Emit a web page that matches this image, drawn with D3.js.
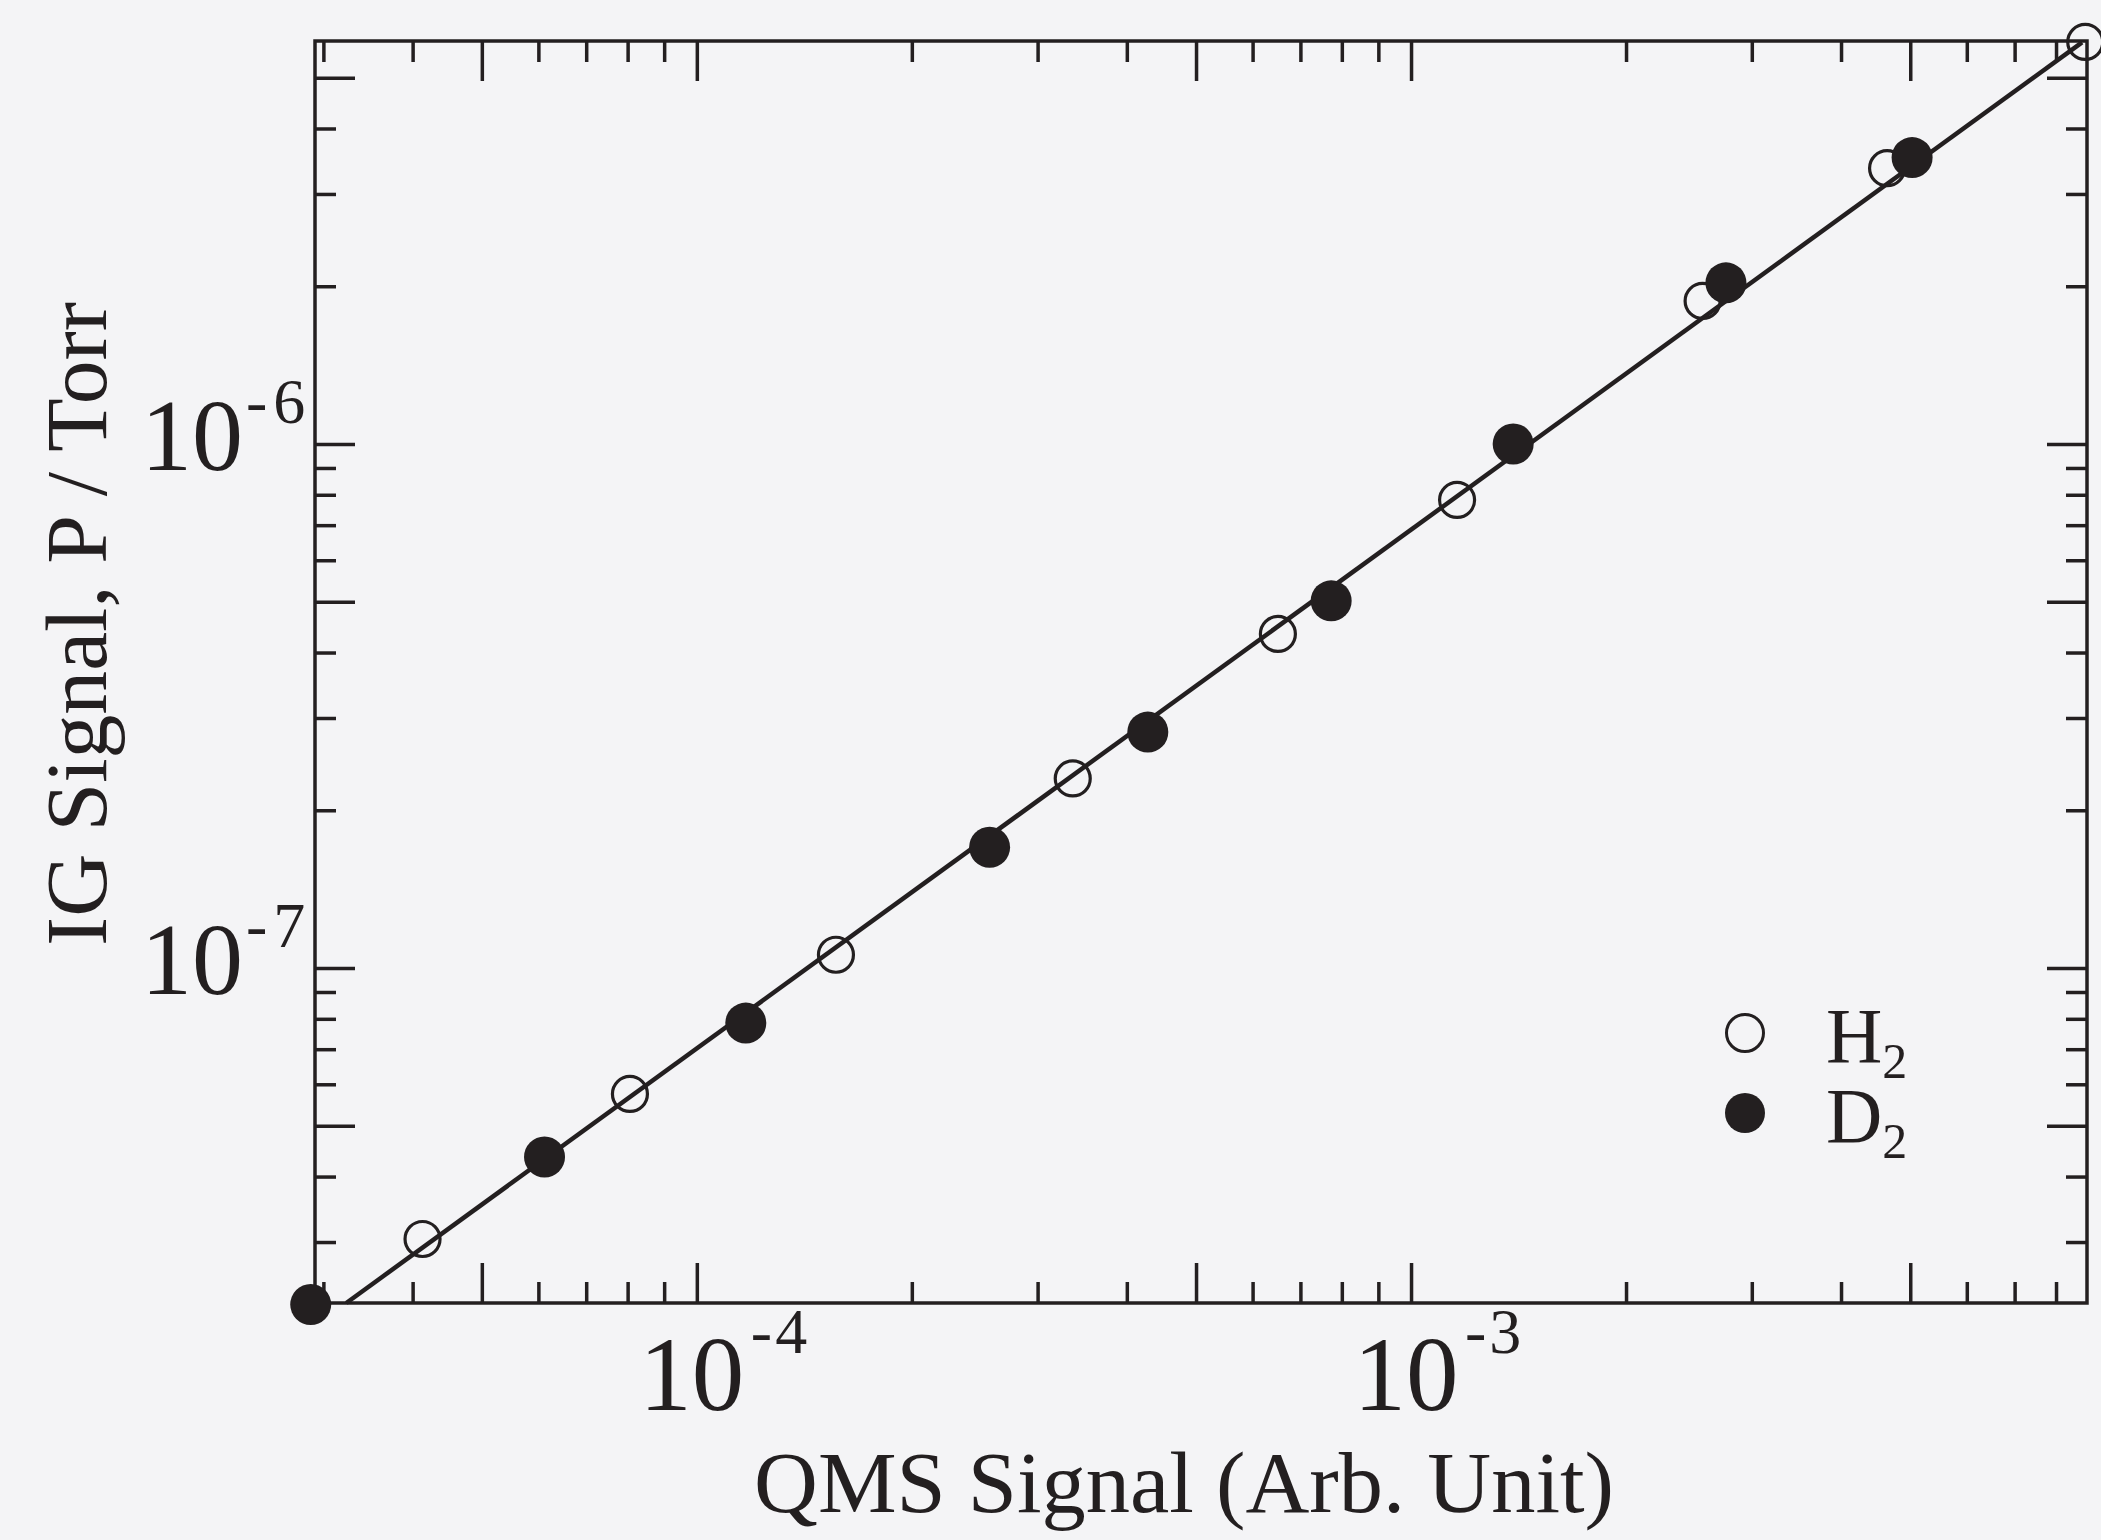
<!DOCTYPE html>
<html><head><meta charset="utf-8">
<script src="https://cdn.jsdelivr.net/npm/d3@7"></script>
<style>
html,body{margin:0;padding:0;background:#f4f4f6;}
svg{display:block;}
</style></head><body>
<svg id="chart" width="2101" height="1540"></svg>
<script>
// ---- data ----
const h2X = [4.13e-5, 8.06e-5, 1.566e-4, 3.36e-4, 6.51e-4, 1.16e-3, 2.56e-3, 4.64e-3, 8.79e-3];
const h2Y = [3.04e-8, 5.75e-8, 1.06e-7, 2.30e-7, 4.34e-7, 7.82e-7, 1.875e-6, 3.36e-6, 5.85e-6];
const d2X = [2.88e-5, 6.12e-5, 1.171e-4, 2.57e-4, 4.28e-4, 7.73e-4, 1.39e-3, 2.76e-3, 5.03e-3];
const d2Y = [2.28e-8, 4.36e-8, 7.85e-8, 1.70e-7, 2.82e-7, 5.02e-7, 1.0e-6, 2.03e-6, 3.52e-6];
const fitX = [3.23e-5, 8.7e-3];
const fitY = [2.295e-8, 5.84e-6];

const xDomain = [2.92e-5, 8.84e-3];
const yDomain = [2.295e-8, 5.875e-6];
const xMajorTicks = [5e-5, 1e-4, 5e-4, 1e-3, 5e-3];
const xMinorTicks = [3e-5, 4e-5, 6e-5, 7e-5, 8e-5, 9e-5, 2e-4, 3e-4, 4e-4, 6e-4, 7e-4, 8e-4, 9e-4, 2e-3, 3e-3, 4e-3, 6e-3, 7e-3, 8e-3];
const yMajorTicks = [5e-8, 1e-7, 5e-7, 1e-6, 5e-6];
const yMinorTicks = [3e-8, 4e-8, 6e-8, 7e-8, 8e-8, 9e-8, 2e-7, 3e-7, 4e-7, 6e-7, 7e-7, 8e-7, 9e-7, 2e-6, 3e-6, 4e-6];
const xLabelValues = [1e-4, 1e-3];
const xLabelExps = ["-4", "-3"];
const yLabelValues = [1e-7, 1e-6];
const yLabelExps = ["-7", "-6"];
const xTitle = "QMS Signal (Arb. Unit)";
const yTitle = "IG Signal, P / Torr";
const legendNames = ["H", "D"];
const legendSubs = ["2", "2"];

// ---- drawing ----
const svg = d3.select('#chart');
const W = 2101, H = 1540;
const M = {l: 315, r: 2087, t: 41, b: 1303};
const ink = '#231f20';
const font = '"Liberation Serif", "Times New Roman", serif';

svg.append('rect').attr('width', W).attr('height', H).attr('fill', '#f4f4f6');

const x = d3.scaleLog().domain(xDomain).range([M.l, M.r]);
const y = d3.scaleLog().domain(yDomain).range([M.b, M.t]);

function axis(gen, tr, vals, len) {
  const g = svg.append('g').attr('transform', tr)
    .call(gen.tickValues(vals).tickSizeInner(-len).tickSizeOuter(0).tickFormat(''));
  g.select('.domain').remove();
  g.selectAll('text').remove();
  g.selectAll('line').attr('stroke', ink).attr('stroke-width', 3.5);
}
const majLen = 40, minLen = 21;
axis(d3.axisBottom(x), `translate(0,${M.b})`, xMajorTicks, majLen);
axis(d3.axisBottom(x), `translate(0,${M.b})`, xMinorTicks, minLen);
axis(d3.axisTop(x), `translate(0,${M.t})`, xMajorTicks, majLen);
axis(d3.axisTop(x), `translate(0,${M.t})`, xMinorTicks, minLen);
axis(d3.axisLeft(y), `translate(${M.l},0)`, yMajorTicks, majLen);
axis(d3.axisLeft(y), `translate(${M.l},0)`, yMinorTicks, minLen);
axis(d3.axisRight(y), `translate(${M.r},0)`, yMajorTicks, majLen);
axis(d3.axisRight(y), `translate(${M.r},0)`, yMinorTicks, minLen);

svg.append('rect').attr('x', M.l).attr('y', M.t).attr('width', M.r - M.l).attr('height', M.b - M.t)
  .attr('fill', 'none').attr('stroke', ink).attr('stroke-width', 3.5);

// tick labels
xLabelValues.forEach((v, i) => {
  const px = x(v);
  svg.append('text').attr('x', px - 5).attr('y', M.b + 107).attr('text-anchor', 'middle')
    .attr('font-family', font).attr('font-size', 105).attr('fill', ink).text('10');
  const s = svg.append('text').attr('x', px + 54).attr('y', M.b + 50)
    .attr('font-family', font).attr('font-size', 64).attr('fill', ink);
  s.append('tspan').text(xLabelExps[i][0]);
  s.append('tspan').attr('dx', 3).text(xLabelExps[i].slice(1));
});
yLabelValues.forEach((v, i) => {
  const py = y(v);
  svg.append('text').attr('x', 243).attr('y', py + 26).attr('text-anchor', 'end')
    .attr('font-family', font).attr('font-size', 102).attr('fill', ink).text('10');
  const s = svg.append('text').attr('x', 246).attr('y', py - 21)
    .attr('font-family', font).attr('font-size', 64).attr('fill', ink);
  s.append('tspan').text(yLabelExps[i][0]);
  s.append('tspan').attr('dx', 6).text(yLabelExps[i].slice(1));
});

// axis titles
svg.append('text').attr('x', 754).attr('y', 1512)
  .attr('font-family', font).attr('font-size', 86).attr('fill', ink)
  .attr('textLength', 860).attr('lengthAdjust', 'spacingAndGlyphs').text(xTitle);
svg.append('text').attr('transform', 'translate(106,946) rotate(-90)')
  .attr('x', 0).attr('y', 0)
  .attr('font-family', font).attr('font-size', 86).attr('fill', ink)
  .attr('textLength', 644).attr('lengthAdjust', 'spacingAndGlyphs').text(yTitle);

// fit line
const line = d3.line().x(d => x(d[0])).y(d => y(d[1]));
svg.append('path').datum(d3.zip(fitX, fitY)).attr('d', line)
  .attr('fill', 'none').attr('stroke', ink).attr('stroke-width', 4.5);

// markers
svg.append('g').selectAll('circle').data(d3.zip(h2X, h2Y)).join('circle')
  .attr('cx', d => x(d[0])).attr('cy', d => y(d[1])).attr('r', 17.5)
  .attr('fill', 'none').attr('stroke', ink).attr('stroke-width', 3.2);
svg.append('g').selectAll('circle').data(d3.zip(d2X, d2Y)).join('circle')
  .attr('cx', d => x(d[0])).attr('cy', d => y(d[1])).attr('r', 20.5)
  .attr('fill', ink);

// legend
const lgX = 1745, lgY = [1033, 1113];
legendNames.forEach((n, i) => {
  const c = svg.append('circle').attr('cx', lgX).attr('cy', lgY[i]);
  if (i === 0) c.attr('r', 18.5).attr('fill', 'none').attr('stroke', ink).attr('stroke-width', 3);
  else c.attr('r', 20).attr('fill', ink);
  const t = svg.append('text').attr('x', 1826).attr('y', lgY[i] + 29)
    .attr('font-family', font).attr('font-size', 78).attr('fill', ink);
  t.append('tspan').text(n);
  t.append('tspan').attr('dy', 16).attr('font-size', 50).text(legendSubs[i]);
});
</script>
</body></html>
